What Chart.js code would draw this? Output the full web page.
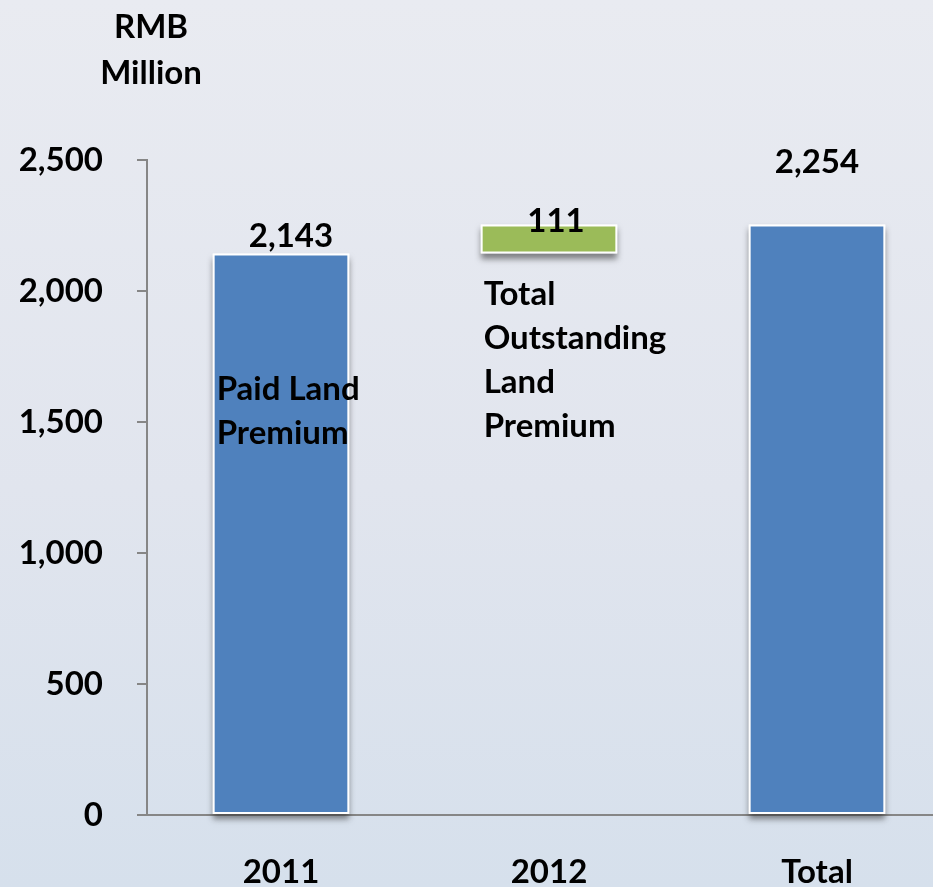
<!DOCTYPE html>
<html>
<head>
<meta charset="utf-8">
<script src="https://cdn.jsdelivr.net/npm/chart.js@4.4.0/dist/chart.umd.min.js"></script>
<style>
  html, body { margin: 0; padding: 0; width: 933px; height: 887px; overflow: hidden; }
  body { background: linear-gradient(180deg, #e9ebf1 0%, #e1e5ee 55%, #d6e0ec 100%); }
  #wrap { position: absolute; left: 0; top: 0; width: 951px; height: 887px; }
</style>
</head>
<body>
<div id="wrap"><canvas id="chart" width="951" height="887"></canvas></div>
<script>
// waterfall data (RMB million)
const categories = ["2011", "2012", "Total"];
const values = [2143, 111, 2254];
const barKinds = ["step", "step", "total"];
const valueLabels = ["2,143", "111", "2,254"];
const barColors = ["#4f81bd", "#9bbb59", "#4f81bd"];
const yTicks = [0, 500, 1000, 1500, 2000, 2500];
const unitLines = ["RMB", "Million"];
const paidNote = ["Paid Land", "Premium"];
const outstandingNote = ["Total", "Outstanding", "Land", "Premium"];

// build floating ranges from the values
let running = 0;
const ranges = values.map((v, i) => {
  if (barKinds[i] === "total") return [0, v];
  const r = [running, running + v];
  running += v;
  return r;
});

const FONT = "Lato, 'Open Sans', sans-serif";
const SIZE = 33;

// grey drop shadow under each bar, drawn from the bar elements
const barShadow = {
  id: "barShadow",
  beforeDatasetsDraw(chart) {
    const ctx = chart.ctx;
    chart.getDatasetMeta(0).data.forEach((el) => {
      const p = el.getProps(["x", "y", "base", "width"], true);
      ctx.save();
      ctx.shadowColor = "rgba(40,40,40,0.55)";
      ctx.shadowBlur = 6;
      ctx.shadowOffsetY = 5;
      ctx.shadowOffsetX = 0;
      ctx.fillStyle = "#ffffff";
      ctx.fillRect(p.x - p.width / 2, Math.min(p.y, p.base), p.width, Math.abs(p.base - p.y));
      ctx.restore();
    });
  },
};

// value labels, notes and unit title
const textLayer = {
  id: "textLayer",
  afterDatasetsDraw(chart, args, opts) {
    const ctx = chart.ctx;
    const y = chart.scales.y;
    const bars = chart.getDatasetMeta(0).data;
    ctx.save();
    ctx.fillStyle = "#000";
    ctx.font = "bold " + SIZE + "px " + FONT;
    ctx.textBaseline = "middle";

    ctx.textAlign = "center";
    bars.forEach((el, i) => {
      const off = opts.labelOffsets[i];
      ctx.fillText(valueLabels[i], el.x + off.dx, el.y + off.dy);
    });

    ctx.textAlign = "left";
    opts.notes.forEach((n) => {
      const el = bars[n.index];
      const left = el.x - el.width / 2 + n.dx;
      const top = y.getPixelForValue(n.at);
      n.lines.forEach((line, k) => ctx.fillText(line, left, top + k * n.lineHeight));
    });

    ctx.textAlign = "center";
    unitLines.forEach((line, k) => ctx.fillText(line, opts.unit.x, opts.unit.y + k * 46));
    ctx.restore();
  },
};

new Chart(document.getElementById("chart"), {
  type: "bar",
  data: {
    labels: categories,
    datasets: [{
      data: ranges,
      backgroundColor: barColors,
      borderColor: "#ffffff",
      borderWidth: 2,
      borderSkipped: false,
      barPercentage: 1,
      categoryPercentage: 0.51,
    }],
  },
  options: {
    responsive: false,
    animation: false,
    layout: { padding: { top: 160, left: 0, right: 0, bottom: 0 } },
    plugins: {
      legend: { display: false },
      tooltip: { enabled: false },
      textLayer: {
        labelOffsets: [{ dx: 10, dy: -17 }, { dx: 7, dy: -3 }, { dx: 0, dy: -62 }],
        notes: [
          { index: 0, dx: 4, at: 1626, lineHeight: 44, lines: paidNote },
          { index: 1, dx: 3, at: 1988, lineHeight: 44, lines: outstandingNote },
        ],
        unit: { x: 151, y: 27 },
      },
    },
    scales: {
      x: {
        grid: { display: false },
        border: { display: true, color: "#868686", width: 2 },
        ticks: { color: "#000", padding: 30, font: { family: FONT, size: SIZE, weight: "bold" } },
        afterFit(s) { s.height = 72; },
      },
      y: {
        min: 0,
        max: 2500,
        afterBuildTicks(s) { s.ticks = yTicks.map((v) => ({ value: v })); },
        grid: { display: true, drawOnChartArea: false, drawTicks: true, tickLength: 10, color: "#868686", lineWidth: 2 },
        border: { display: true, color: "#868686", width: 2 },
        ticks: {
          color: "#000",
          padding: 34,
          font: { family: FONT, size: SIZE, weight: "bold" },
          callback: (v) => v.toLocaleString("en-US"),
        },
        afterFit(s) { s.width = 147; },
      },
    },
  },
  plugins: [barShadow, textLayer],
});
</script>
</body>
</html>
